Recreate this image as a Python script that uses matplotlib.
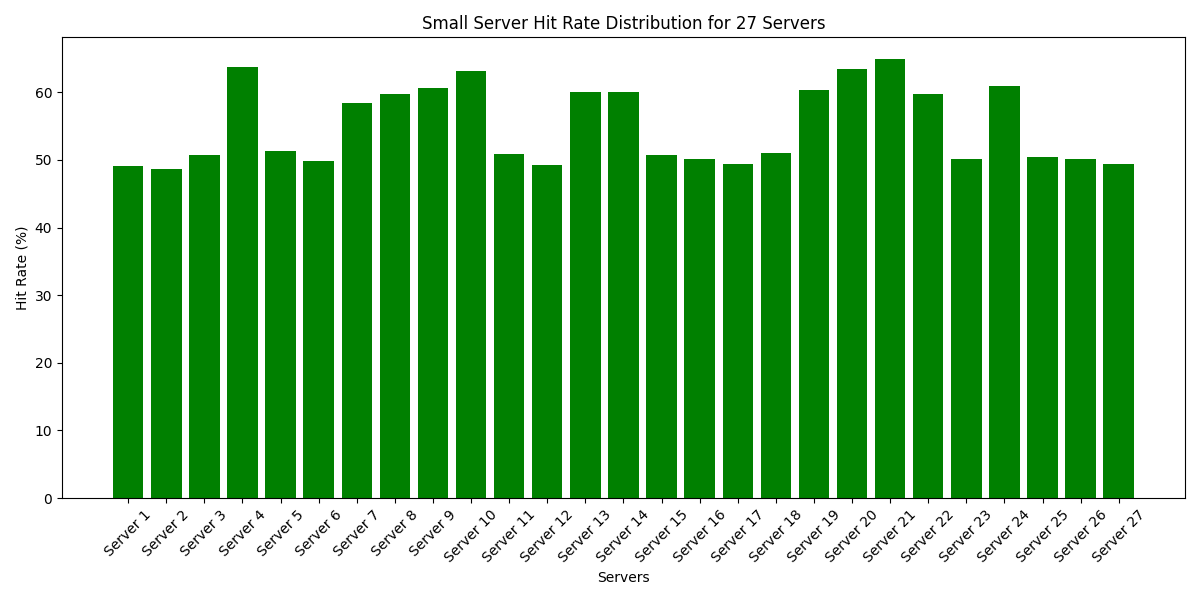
import matplotlib
matplotlib.use("Agg")
import matplotlib.pyplot as plt

servers = [f"Server {i}" for i in range(1, 28)]
hit_rates = [49.1, 48.6, 50.7, 63.8, 51.3, 49.8, 58.5, 59.7, 60.6, 63.2,
             50.9, 49.2, 60.1, 60.0, 50.7, 50.1, 49.4, 51.1, 60.3, 63.4,
             64.9, 59.8, 50.1, 61.0, 50.4, 50.2, 49.4]

fig, ax = plt.subplots(figsize=(12, 6), dpi=100)
ax.bar(servers, hit_rates, color="green")
ax.set_title("Small Server Hit Rate Distribution for 27 Servers")
ax.set_xlabel("Servers")
ax.set_ylabel("Hit Rate (%)")
plt.xticks(rotation=45)
plt.tight_layout()
plt.savefig("out.png")
